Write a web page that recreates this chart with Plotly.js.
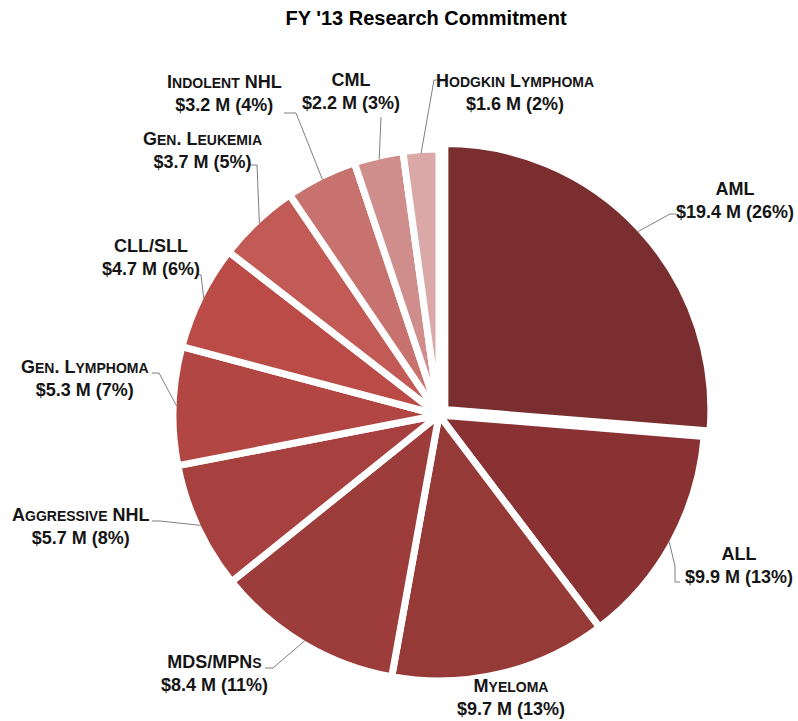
<!DOCTYPE html>
<html>
<head>
<meta charset="utf-8">
<script src="https://cdn.plot.ly/plotly-3.0.1.min.js"></script>
<style>html,body{margin:0;padding:0;background:#fff;}#chart{width:798px;height:721px;}</style>
</head>
<body>
<div id="chart"></div>
<script>
// ---- data ----
var categories = ['AML','ALL','Myeloma','MDS/MPNs','Aggressive NHL','Gen. Lymphoma','CLL/SLL','Gen. Leukemia','Indolent NHL','CML','Hodgkin Lymphoma'];
var fundingM = [19.4, 9.9, 9.7, 8.4, 5.7, 5.3, 4.7, 3.7, 3.2, 2.2, 1.6];
var sliceColors = ['#7a2e2f','#8a3233','#963a38','#9d3d3b','#a7413f','#b24642','#ba4b47','#c25a56','#c87270','#cf8d8c','#d9a8a7'];
var chartTitle = "FY '13 Research Commitment";

// ---- layout / style constants (pixels) ----
var W = 798, H = 721;
var CX = 439, CY = 415, R = 266, LINEW = 7;
var pulls = [0.03,0,0,0,0,0,0,0,0,0,0];
// label block centers (px)
var labelPos = [[735,200],[739,565],[511,697],[214,673],[80,526],[85,378],[151,257],[202,150],[224,94],[351,92],[515,93]];
// leader line waypoints from label side toward the slice (px); the slice tip is computed from data
var leaderPts = [
  [[676,214],[670,214]],
  [[680,582],[675,582],[675,566]],
  [],
  [[265,668],[273,668]],
  [[152,521],[160,521]],
  [[152,373],[159,373]],
  [[197,274],[201,275]],
  [[250,165],[257,165]],
  [[284,113],[296,113]],
  [[381,117]],
  [[440,80],[434,80]]
];

var maxPull = Math.max.apply(null, pulls);
var box = 2 * R * (1 + maxPull);
var domX = [(CX - box/2)/W, (CX + box/2)/W];
var domY = [1 - (CY + box/2)/H, 1 - (CY - box/2)/H];

function px2x(x){ return x / W; }
function px2y(y){ return 1 - y / H; }

function smallCaps(s){
  return s.replace(/[a-z]+/g, function(m){ return '<span style="font-size:14px">' + m.toUpperCase() + '</span>'; });
}

var total = fundingM.reduce(function(a,b){return a+b;}, 0);
var annotations = [];
var shapes = [];
var cum = 0;
for (var i = 0; i < categories.length; i++) {
  var v = fundingM[i];
  var theta = 2 * Math.PI * (cum + v/2) / total;
  cum += v;
  var sx = Math.sin(theta), sy = -Math.cos(theta);
  var ox = CX + pulls[i] * R * sx, oy = CY + pulls[i] * R * sy;
  var rr = R - LINEW/2;
  var tip = [ox + rr * sx, oy + rr * sy];
  var pct = Math.round(v / total * 100);
  annotations.push({
    x: px2x(labelPos[i][0]), y: px2y(labelPos[i][1]), xref: 'paper', yref: 'paper',
    xanchor: 'center', yanchor: 'middle', showarrow: false, align: 'center',
    text: '<b>' + smallCaps(categories[i]) + '<br>$' + v.toFixed(1) + ' M (' + pct + '%)</b>',
    font: {family: 'Liberation Sans, Arial, sans-serif', size: 18, color: '#151515'}
  });
  var pts = leaderPts[i];
  if (pts.length) {
    var path = 'M' + px2x(pts[0][0]) + ',' + px2y(pts[0][1]);
    for (var k = 1; k < pts.length; k++) path += ' L' + px2x(pts[k][0]) + ',' + px2y(pts[k][1]);
    path += ' L' + px2x(tip[0]) + ',' + px2y(tip[1]);
    shapes.push({type: 'path', xref: 'paper', yref: 'paper', path: path, line: {color: '#7f7f7f', width: 1}});
  }
}

var trace = {
  type: 'pie',
  labels: categories,
  values: fundingM,
  sort: false,
  direction: 'clockwise',
  rotation: 0,
  pull: pulls,
  textinfo: 'none',
  hoverinfo: 'none',
  marker: {colors: sliceColors, line: {color: '#ffffff', width: LINEW}},
  domain: {x: domX, y: domY}
};

var layout = {
  width: W, height: H,
  margin: {l: 0, r: 0, t: 0, b: 0},
  paper_bgcolor: '#ffffff',
  showlegend: false,
  title: {
    text: '<b>' + chartTitle + '</b>',
    font: {family: 'Liberation Sans, Arial, sans-serif', size: 20, color: '#000000'},
    x: 426 / W, xanchor: 'center', y: 1 - 18 / H, yanchor: 'middle'
  },
  annotations: annotations,
  shapes: shapes
};

Plotly.newPlot('chart', [trace], layout, {displayModeBar: false, staticPlot: true});
</script>
</body>
</html>
